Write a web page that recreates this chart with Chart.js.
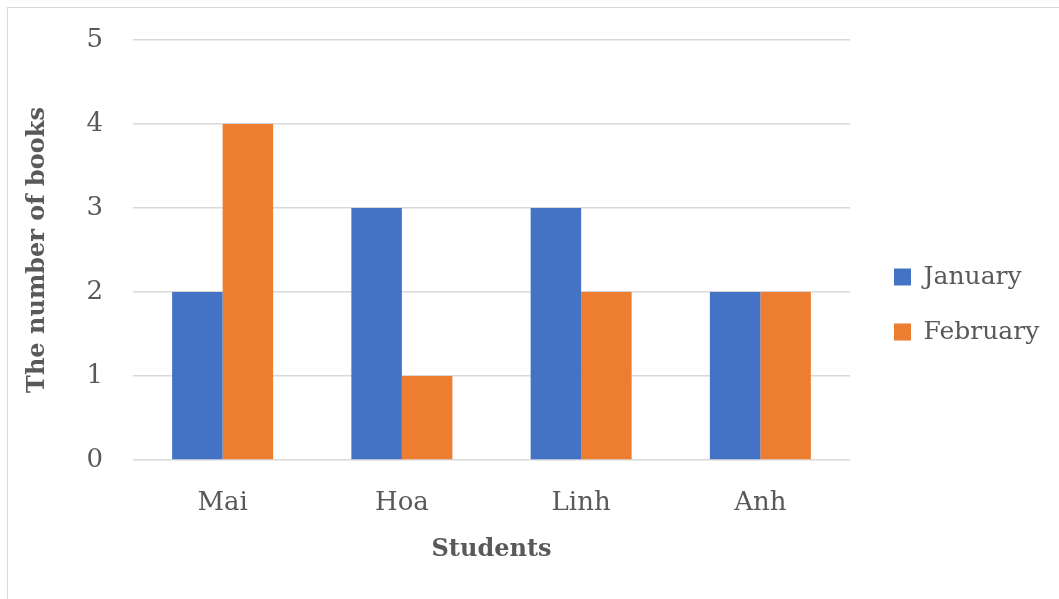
<!DOCTYPE html>
<html>
<head>
<meta charset="utf-8">
<script src="https://cdn.jsdelivr.net/npm/chart.js@4.4.0/dist/chart.umd.min.js"></script>
<style>
  html, body { margin: 0; padding: 0; background: #ffffff; overflow: hidden; }
  #frame { position: absolute; left: 7px; top: 7px; width: 2000px; height: 2000px; border: 1px solid #d9d9d9; box-sizing: border-box; }
  #wrap { position: absolute; left: 0; top: 0; width: 1059px; height: 599px; }
</style>
</head>
<body>
<div id="frame"></div>
<div id="wrap"><canvas id="c" width="1059" height="599"></canvas></div>
<script>
const categories = ["Mai", "Hoa", "Linh", "Anh"];
const januaryValues = [2, 3, 3, 2];
const februaryValues = [4, 1, 2, 2];
const seriesNames = ["January", "February"];
const yTicks = [0, 1, 2, 3, 4, 5];

const FONT = "'DejaVu Serif', serif";
const TEXT = "#595959";

const legendFix = {
  id: 'legendFix',
  beforeLayout(chart) {
    const lg = chart.legend;
    if (lg && !lg._fixed) {
      const orig = lg.fit;
      lg.fit = function () { orig.call(this); this.width = 209; };
      lg._fixed = true;
    }
  },
  afterLayout(chart) {
    const lg = chart.legend;
    if (lg) { lg.left += 14; lg.right += 14; lg.top -= 15; lg.bottom -= 15; }
  }
};

new Chart(document.getElementById('c'), {
  type: 'bar',
  data: {
    labels: categories,
    datasets: [
      { label: seriesNames[0], data: januaryValues, backgroundColor: '#4472C4', borderWidth: 0 },
      { label: seriesNames[1], data: februaryValues, backgroundColor: '#ED7D31', borderWidth: 0 }
    ]
  },
  options: {
    responsive: false,
    animation: false,
    devicePixelRatio: 1,
    layout: { padding: { left: 23, top: 40, right: 0, bottom: 0 } },
    datasets: { bar: { categoryPercentage: 0.5635, barPercentage: 1.0 } },
    plugins: {
      tooltip: { enabled: false },
      legend: {
        position: 'right',
        align: 'center',
        labels: {
          boxWidth: 17, boxHeight: 17, padding: 30,
          color: TEXT,
          font: { family: FONT, size: 25 }
        }
      }
    },
    scales: {
      x: {
        grid: { display: false, drawTicks: false },
        border: { display: false },
        ticks: { color: TEXT, font: { family: FONT, size: 26 }, padding: 28 },
        title: { display: true, text: 'Students', color: TEXT, font: { family: FONT, size: 24, weight: 'bold' }, padding: { top: 0, bottom: 35 } },
        afterFit(scale) { scale.height = 139; }
      },
      y: {
        min: 0, max: 5,
        afterBuildTicks(scale) { scale.ticks = yTicks.map(v => ({ value: v })); },
        grid: { color: '#d9d9d9', lineWidth: 1.5, drawTicks: false },
        border: { display: false },
        ticks: { color: TEXT, font: { family: FONT, size: 26 }, padding: 30 },
        title: { display: true, text: 'The number of books', color: TEXT, font: { family: FONT, size: 24, weight: 'bold' }, padding: { top: 0, bottom: 0 } },
        afterFit(scale) { scale.width = 110; scale.paddingTop = 0; scale.paddingBottom = 0; }
      }
    }
  },
  plugins: [legendFix]
});
</script>
</body>
</html>
